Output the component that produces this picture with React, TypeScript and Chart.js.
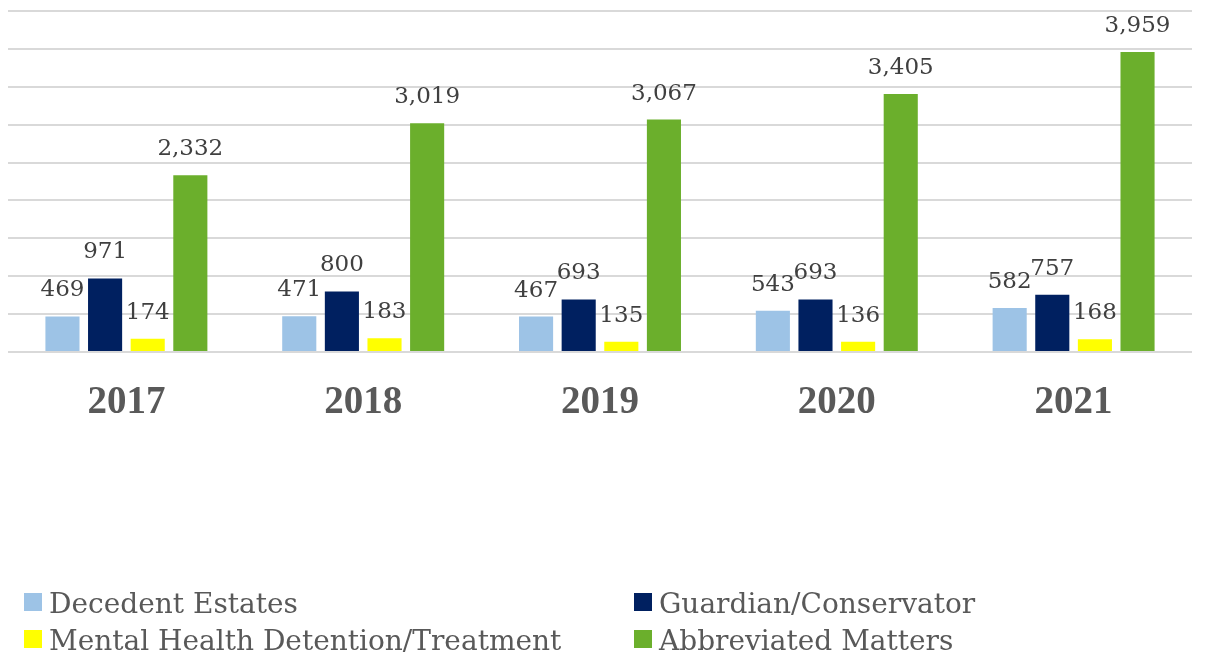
import React, { useEffect, useRef } from "react";
import { Chart, registerables } from "chart.js";

Chart.register(...registerables);

const categories = ["2017", "2018", "2019", "2020", "2021"];
const seriesNames = [
  "Decedent Estates",
  "Guardian/Conservator",
  "Mental Health Detention/Treatment",
  "Abbreviated Matters",
];
const decedentEstates = [469, 471, 467, 543, 582];
const guardianConservator = [971, 800, 693, 693, 757];
const mentalHealth = [174, 183, 135, 136, 168];
const abbreviatedMatters = [2332, 3019, 3067, 3405, 3959];
const seriesColors = ["#9DC3E6", "#002060", "#FFFF00", "#6BAF2C"];

const W = 1208;
const H = 659;

const dataLabelPlugin = {
  id: "dataLabels",
  afterDatasetsDraw(chart: any) {
    const ctx = chart.ctx;
    ctx.save();
    ctx.font = "23px 'DejaVu Serif'";
    ctx.fillStyle = "#404040";
    ctx.textAlign = "center";
    ctx.textBaseline = "alphabetic";
    chart.data.datasets.forEach((ds: any, i: number) => {
      const meta = chart.getDatasetMeta(i);
      meta.data.forEach((bar: any, j: number) => {
        const v = ds.data[j] as number;
        ctx.fillText(v.toLocaleString("en-US"), bar.x, bar.y - 20);
      });
    });
    ctx.restore();
  },
};

const legendPlugin = {
  id: "customLegend",
  afterDraw(chart: any) {
    const ctx = chart.ctx;
    const colX = [24, 634];
    const rowY = [593, 630];
    const box = 18;
    ctx.save();
    ctx.font = "28px 'DejaVu Serif'";
    ctx.textAlign = "left";
    ctx.textBaseline = "alphabetic";
    chart.data.datasets.forEach((ds: any, i: number) => {
      const x = colX[i % 2];
      const y = rowY[Math.floor(i / 2)];
      ctx.fillStyle = ds.backgroundColor;
      ctx.fillRect(x, y, box, box);
      ctx.fillStyle = "#595959";
      ctx.fillText(ds.label, x + 25, y + 20);
    });
    ctx.restore();
  },
};

export default function App() {
  const ref = useRef<HTMLCanvasElement | null>(null);

  useEffect(() => {
    if (!ref.current) return;
    const values = [decedentEstates, guardianConservator, mentalHealth, abbreviatedMatters];
    const chart = new Chart(ref.current, {
      type: "bar",
      data: {
        labels: categories,
        datasets: seriesNames.map((name, i) => ({
          label: name,
          data: values[i],
          backgroundColor: seriesColors[i],
          borderWidth: 0,
          categoryPercentage: 0.72,
          barPercentage: 0.8,
        })),
      },
      options: {
        responsive: false,
        animation: false,
        maintainAspectRatio: false,
        layout: { padding: { left: 8, right: 16, top: 11, bottom: 0 } },
        plugins: {
          legend: { display: false },
          tooltip: { enabled: false },
        },
        scales: {
          x: {
            grid: { display: false, drawTicks: false },
            border: { display: false },
            ticks: {
              font: { family: "'Liberation Serif'", size: 39, weight: "bold" },
              color: "#595959",
              padding: 28,
            },
            afterFit: (scale: any) => {
              scale.height = H - 352;
            },
          },
          y: {
            min: 0,
            max: 4500,
            ticks: { display: false, stepSize: 500 },
            grid: { color: "#D9D9D9", lineWidth: 2, drawTicks: false },
            border: { display: false },
          },
        },
      },
      plugins: [dataLabelPlugin, legendPlugin],
    });
    return () => chart.destroy();
  }, []);

  return (
    <div style={{ position: "fixed", left: 0, top: 0, width: W, height: H, background: "#fff" }}>
      <canvas ref={ref} width={W} height={H} />
    </div>
  );
}
